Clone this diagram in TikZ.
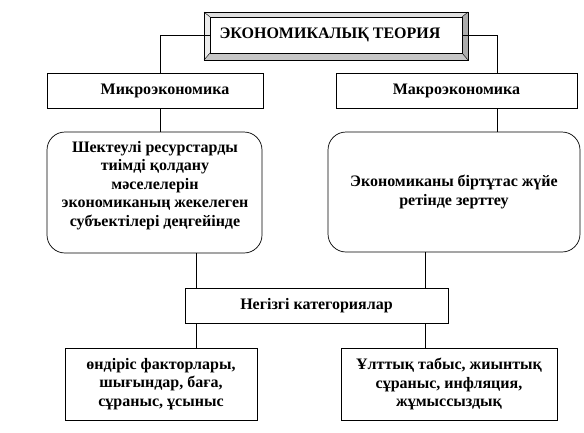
\documentclass[tikz,border=0pt]{standalone}
\usepackage{fontspec}
\setmainfont{Liberation Serif}
\usetikzlibrary{calc}
\tikzset{
  every node/.style={font=\bfseries\fontsize{16}{18.5}\selectfont},
  conn/.style={draw=black, line width=0.7pt},
  plainbox/.style={draw=black, line width=0.7pt, fill=white, inner sep=0pt, align=center},
  roundbox/.style={draw=black, line width=0.7pt, fill=white, rounded corners=18pt, inner sep=0pt, align=center},
}
\begin{document}
\begin{tikzpicture}[x=1pt,y=-1pt]
\useasboundingbox (0,0) rectangle (584,432);
% bevelled title box
\fill[gray!25] (204,12) -- (468,12) -- (462,17) -- (210,17) -- cycle;
\fill[gray!15] (204,12) -- (210,17) -- (210,53) -- (204,60) -- cycle;
\fill[gray!45] (204,60) -- (210,53) -- (462,53) -- (468,60) -- cycle;
\fill[gray!65] (468,12) -- (462,17) -- (462,53) -- (468,60) -- cycle;
\draw[line width=0.7pt] (204,12) rectangle (468,60);
\draw[line width=0.4pt] (204,12) -- (210,17) (468,12) -- (462,17) (204,60) -- (210,53) (468,60) -- (462,53);
\node[plainbox, minimum width=252, minimum height=36] (top) at (336,35) {ЭКОНОМИКАЛЫҚ ТЕОРИЯ\hspace*{12pt}};

\node[plainbox, minimum width=216, minimum height=35] (micro) at (155,90.5) {\hspace*{20pt}Микроэкономика};
\node[plainbox, minimum width=241, minimum height=35] (macro) at (456.5,90.5) {Макроэкономика};

\node[roundbox, minimum width=215, minimum height=121] (microd) at (154.5,192.5) {};
\node[anchor=north, align=center, inner sep=0pt] (microt) at (155,141)
  {Шектеулі ресурстарды\\ тиімді қолдану\\ мәселелерін\\ экономиканың жекелеген\\ субъектілері деңгейінде};
\node[roundbox, minimum width=252, minimum height=120] (macrod) at (454,192)
  {Экономиканы біртұтас жүйе\\ ретінде зерттеу};

\node[plainbox, minimum width=263, minimum height=35] (cat) at (316.5,305.5) {Негізгі категориялар};

\node[plainbox, minimum width=192, minimum height=72] (bl) at (161,384)
  {өндіріс факторлары,\\ шығындар, баға,\\ сұраныс, ұсыныс};
\node[plainbox, minimum width=216, minimum height=72] (br) at (449,384)
  {Ұлттық табыс, жиынтық\\ сұраныс, инфляция,\\ жұмыссыздық};

\coordinate (cl) at (196,0);
\coordinate (cr) at (425,0);
\coordinate (ml) at (160,0);
\coordinate (mr) at (497,0);

\draw[conn] (top.west) -| (micro.north -| ml);
\draw[conn] (top.east) -| (macro.north -| mr);
\draw[conn] (micro.south -| ml) -- (microd.north -| ml);
\draw[conn] (macro.south -| mr) -- (macrod.north -| mr);
\draw[conn] (microd.south -| cl) -- (cat.north -| cl);
\draw[conn] (macrod.south -| cr) -- (cat.north -| cr);
\draw[conn] (cat.south -| cl) -- (bl.north -| cl);
\draw[conn] (cat.south -| cr) -- (br.north -| cr);
\end{tikzpicture}
\end{document}
